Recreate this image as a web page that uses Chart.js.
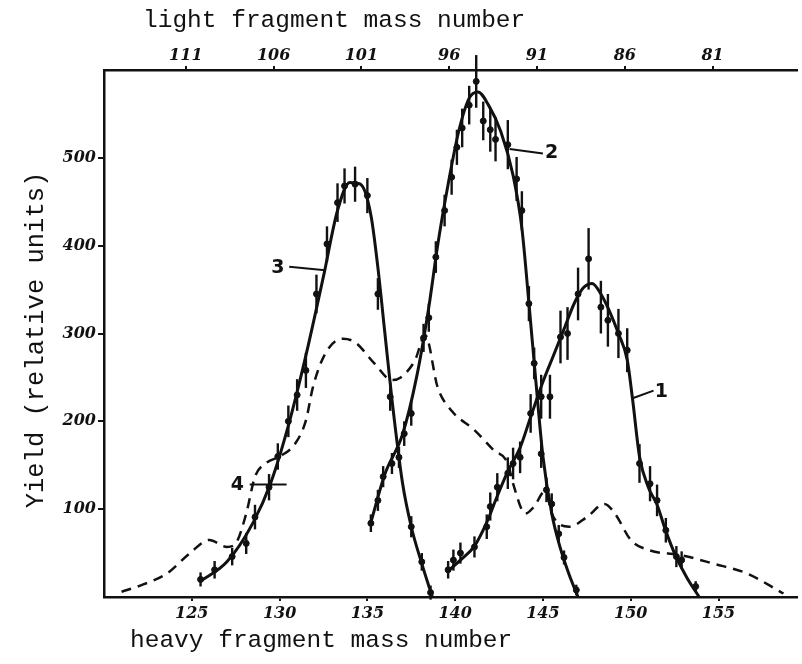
<!DOCTYPE html>
<html>
<head>
<meta charset="utf-8">
<script src="https://cdn.jsdelivr.net/npm/chart.js@4.4.1/dist/chart.umd.min.js"></script>
<style>
  html, body { margin: 0; padding: 0; background: #fff; }
  #wrap { width: 802px; height: 664px; position: relative; }
</style>
</head>
<body>
<div id="wrap"><canvas id="chart"></canvas></div>
<script>
// tick labels
const heavyTicks = [125, 130, 135, 140, 145, 150, 155];
const lightTicks = [111, 106, 101, 96, 91, 86, 81];
const yieldTicks = [100, 200, 300, 400, 500];
const massSum = 235.66; // light = massSum - heavy

// curve 1 measured points
const c1Mass = [139.6, 139.9, 140.3, 141.1, 141.8, 142.0, 142.4, 143.0, 143.3, 143.7, 144.3, 144.9, 145.4, 146.0, 146.4, 147.0, 147.6, 148.3, 148.7, 149.3, 149.8, 150.5, 151.1, 151.5, 152.0, 152.6, 152.9, 153.7];
const c1Yield = [31, 42, 50, 57, 80, 103, 125, 141, 152, 159, 209, 228, 228, 296, 300, 345, 385, 330, 315, 300, 281, 152, 129, 110, 76, 46, 42, 12];
const c1Err = [10, 12, 12, 12, 14, 16, 16, 18, 18, 18, 22, 25, 25, 30, 30, 30, 35, 30, 30, 28, 25, 22, 20, 18, 14, 12, 10, 6];
// curve 1 drawn line
const c1FitMass = [139.5, 140.3, 141.1, 141.8, 142.4, 143.0, 143.7, 144.3, 145.0, 145.6, 146.2, 146.8, 147.3, 147.8, 148.3, 148.8, 149.3, 149.8, 150.1, 150.5, 151.0, 151.5, 152.0, 152.6, 153.2, 153.9];
const c1FitYield = [28, 42, 58, 85, 115, 143, 170, 205, 245, 275, 305, 335, 352, 357, 345, 325, 300, 270, 226, 160, 125, 105, 75, 45, 22, 0];

// curve 2 measured points
const c2Mass = [135.2, 135.6, 135.9, 136.4, 136.8, 137.1, 137.5, 138.2, 138.5, 138.9, 139.4, 139.8, 140.1, 140.4, 140.8, 141.2, 141.6, 142.0, 142.3, 143.0, 143.5, 143.8, 144.2, 144.5, 144.9, 145.2, 145.5, 145.9, 146.2, 146.9];
const c2Yield = [84, 110, 137, 152, 159, 186, 209, 295, 318, 387, 440, 478, 512, 534, 560, 587, 542, 532, 521, 515, 476, 440, 334, 266, 163, 122, 106, 72, 45, 8];
const c2Err = [10, 12, 12, 12, 12, 14, 14, 16, 16, 18, 18, 20, 20, 22, 22, 30, 22, 25, 25, 28, 25, 22, 20, 18, 16, 14, 12, 10, 8, 6];
// curve 2 drawn line
const c2FitMass = [135.2, 136.0, 137.0, 137.8, 138.5, 139.0, 139.6, 140.2, 140.8, 141.3, 141.9, 142.6, 143.3, 143.8, 144.2, 144.6, 145.0, 145.5, 146.0, 146.5, 147.0];
const c2FitYield = [85, 140, 185, 250, 330, 400, 470, 530, 568, 575, 560, 530, 480, 420, 335, 245, 160, 95, 55, 25, 0];

// curve 3 measured points
const c3Mass = [125.5, 126.3, 127.3, 128.1, 128.6, 129.4, 129.9, 130.5, 131.0, 131.5, 132.1, 132.7, 133.3, 133.7, 134.3, 135.0, 135.6, 136.3, 137.5, 138.1, 138.6];
const c3Yield = [20, 31, 46, 61, 91, 125, 160, 200, 230, 258, 345, 402, 449, 468, 470, 457, 345, 228, 80, 40, 5];
const c3Err = [8, 10, 10, 12, 14, 15, 15, 18, 18, 20, 22, 20, 22, 20, 20, 20, 18, 16, 12, 10, 8];
// curve 3 drawn line
const c3FitMass = [125.5, 127.0, 128.5, 129.5, 130.5, 131.5, 132.5, 133.3, 134.0, 134.6, 135.2, 135.6, 136.0, 136.4, 137.0, 137.5, 138.1, 138.7];
const c3FitYield = [18, 40, 85, 130, 195, 275, 365, 440, 472, 470, 435, 375, 300, 225, 130, 80, 38, 0];

// curve 4 (dashed)
const c4Mass = [121.0, 122.2, 123.6, 124.9, 126.0, 127.0, 127.5, 128.1, 128.6, 129.2, 130.1, 130.9, 131.5, 131.9, 132.6, 133.6, 134.3, 135.4, 136.4, 136.9, 137.7, 138.3, 139.0, 139.8, 141.1, 142.2, 143.0, 143.3, 144.0, 144.5, 145.1, 145.6, 146.5, 147.5, 148.5, 149.1, 150.0, 151.1, 152.8, 154.7, 156.6, 158.7];
const c4Yield = [6, 14, 27, 50, 65, 57, 61, 95, 137, 152, 161, 175, 201, 239, 277, 294, 290, 266, 247, 250, 269, 298, 239, 212, 190, 167, 152, 129, 95, 103, 120, 91, 80, 91, 106, 95, 65, 53, 48, 38, 27, 4];

// curve numbers with leader lines, in data units
const callouts = [
  { text: '1', at: [151.75, 233], from: [150.07, 226], to: [151.3, 235] },
  { text: '2', at: [145.5, 505], from: [143.1, 510], to: [145.0, 505] },
  { text: '3', at: [129.9, 374], from: [130.55, 376], to: [132.6, 372] },
  { text: '4', at: [127.6, 128], from: [128.3, 128], to: [130.4, 128] }
];

const toPoints = (xs, ys) => xs.map((x, i) => ({ x: x, y: ys[i] }));

const ink = '#111';
const tickFont = { family: 'DejaVu Serif', size: 16, weight: 'bold', style: 'italic' };

function fitLine(xs, ys, dashed) {
  return {
    data: toPoints(xs, ys),
    borderColor: ink,
    borderWidth: dashed ? 2.5 : 3,
    borderDash: dashed ? [10, 7] : [],
    pointRadius: 0,
    cubicInterpolationMode: 'monotone',
    fill: false
  };
}

function measured(xs, ys, errs) {
  return {
    data: toPoints(xs, ys),
    errors: errs,
    showLine: false,
    pointRadius: 3,
    pointBackgroundColor: ink,
    pointBorderColor: ink
  };
}

const errorBars = {
  id: 'errorBars',
  afterDatasetsDraw(chart) {
    const { ctx, scales: { x, y } } = chart;
    ctx.save();
    ctx.strokeStyle = ink;
    ctx.lineWidth = 2.4;
    chart.data.datasets.forEach(ds => {
      if (!ds.errors) return;
      ds.data.forEach((p, j) => {
        const px = x.getPixelForValue(p.x);
        const e = ds.errors[j];
        ctx.beginPath();
        ctx.moveTo(px, y.getPixelForValue(p.y - e));
        ctx.lineTo(px, y.getPixelForValue(p.y + e));
        ctx.stroke();
      });
    });
    ctx.restore();
  }
};

const labels = {
  id: 'labels',
  afterDraw(chart) {
    const { ctx, scales: { x, y } } = chart;
    ctx.save();
    ctx.fillStyle = ink;
    ctx.strokeStyle = ink;
    ctx.lineWidth = 2;
    ctx.font = 'bold 19px "DejaVu Sans"';
    ctx.textAlign = 'center';
    ctx.textBaseline = 'middle';
    callouts.forEach(c => {
      ctx.beginPath();
      ctx.moveTo(x.getPixelForValue(c.from[0]), y.getPixelForValue(c.from[1]));
      ctx.lineTo(x.getPixelForValue(c.to[0]), y.getPixelForValue(c.to[1]));
      ctx.stroke();
      ctx.fillText(c.text, x.getPixelForValue(c.at[0]), y.getPixelForValue(c.at[1]));
    });

    // axis titles
    ctx.font = '24.5px "Liberation Mono"';
    ctx.textAlign = 'left';
    ctx.textBaseline = 'alphabetic';
    ctx.fillText('light fragment mass number', 143, 27);
    ctx.fillText('heavy fragment mass number', 130, 647);
    ctx.font = '25.5px "Liberation Mono"';
    ctx.translate(43, 340);
    ctx.rotate(-Math.PI / 2);
    ctx.textAlign = 'center';
    ctx.fillText('Yield (relative units)', 0, 0);
    ctx.restore();
  }
};

const ctx = document.getElementById('chart').getContext('2d');
new Chart(ctx, {
  type: 'line',
  data: {
    datasets: [
      fitLine(c1FitMass, c1FitYield, false),
      measured(c1Mass, c1Yield, c1Err),
      fitLine(c2FitMass, c2FitYield, false),
      measured(c2Mass, c2Yield, c2Err),
      fitLine(c3FitMass, c3FitYield, false),
      measured(c3Mass, c3Yield, c3Err),
      fitLine(c4Mass, c4Yield, true)
    ]
  },
  options: {
    responsive: true,
    maintainAspectRatio: false,
    animation: false,
    layout: { padding: { left: 0, right: 1, top: 0, bottom: 0 } },
    plugins: { legend: { display: false }, tooltip: { enabled: false } },
    scales: {
      x: {
        type: 'linear',
        position: 'bottom',
        min: 120,
        max: 159.47,
        afterBuildTicks: s => { s.ticks = heavyTicks.map(v => ({ value: v })); },
        afterFit: s => { s.height = 67; },
        grid: { drawOnChartArea: false, tickLength: 4, color: ink, lineWidth: 2 },
        border: { color: ink, width: 2.5 },
        ticks: { color: ink, font: tickFont, padding: 3, maxRotation: 0 }
      },
      xTop: {
        type: 'linear',
        position: 'top',
        reverse: true,
        min: massSum - 159.47,
        max: massSum - 120,
        afterBuildTicks: s => { s.ticks = lightTicks.map(v => ({ value: v })); },
        afterFit: s => { s.height = 70; },
        grid: { drawOnChartArea: false, tickLength: 4, color: ink, lineWidth: 2 },
        border: { color: ink, width: 2.5 },
        ticks: { color: ink, font: tickFont, padding: 1, maxRotation: 0 }
      },
      y: {
        min: 0,
        max: 600,
        afterBuildTicks: s => { s.ticks = yieldTicks.map(v => ({ value: v })); },
        afterFit: s => { s.width = 104; },
        grid: { drawOnChartArea: false, tickLength: 6, color: ink, lineWidth: 2 },
        border: { color: ink, width: 2.5 },
        ticks: { color: ink, font: tickFont, padding: 2 }
      }
    }
  },
  plugins: [errorBars, labels]
});
</script>
</body>
</html>
